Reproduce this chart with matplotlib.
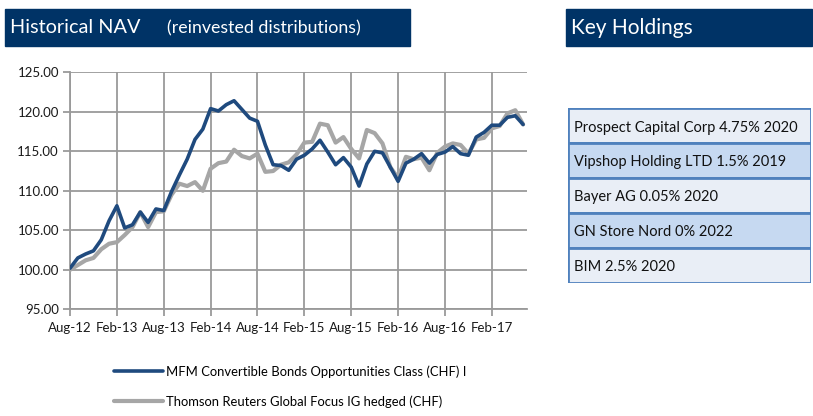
import matplotlib.pyplot as plt
from matplotlib.patches import Rectangle

plt.rcParams['font.family'] = ['Lato', 'DejaVu Sans']

# monthly NAV, Aug-12 .. Jun-17
fund_nav = [100.2, 101.5, 102.0, 102.4, 103.8, 106.2, 108.1, 105.3, 105.7, 107.3,
            106.0, 107.7, 107.5, 109.9, 112.0, 114.0, 116.5, 117.8, 120.4, 120.1,
            120.9, 121.4, 120.3, 119.2, 118.8, 115.8, 113.3, 113.2, 112.6, 114.0,
            114.5, 115.3, 116.4, 114.9, 113.3, 114.2, 113.0, 110.6, 113.4, 115.0,
            114.8, 113.0, 111.2, 113.5, 114.0, 114.7, 113.5, 114.6, 114.9, 115.6,
            114.7, 114.5, 116.8, 117.4, 118.3, 118.3, 119.3, 119.5, 118.4]
index_nav = [100.0, 100.6, 101.2, 101.5, 102.6, 103.3, 103.5, 104.4, 105.4, 107.3,
             105.4, 107.3, 107.4, 109.5, 110.9, 110.6, 111.1, 110.0, 112.8, 113.5,
             113.7, 115.2, 114.4, 114.1, 114.7, 112.4, 112.5, 113.3, 113.6, 114.6,
             116.1, 116.2, 118.5, 118.3, 116.1, 116.8, 115.3, 114.1, 117.7, 117.3,
             116.0, 113.0, 111.6, 114.3, 114.0, 114.2, 112.6, 114.8, 115.6, 116.0,
             115.8, 114.7, 116.5, 116.7, 117.9, 118.2, 119.8, 120.2, 118.4]
months = list(range(len(fund_nav)))

tick_labels = ['Aug-12', 'Feb-13', 'Aug-13', 'Feb-14', 'Aug-14', 'Feb-15',
               'Aug-15', 'Feb-16', 'Aug-16', 'Feb-17']
tick_pos = [6 * i for i in range(len(tick_labels))]
y_ticks = [95, 100, 105, 110, 115, 120, 125]

fund_label = 'MFM Convertible Bonds Opportunities Class (CHF) I'
index_label = 'Thomson Reuters Global Focus IG hedged (CHF)'

holdings = ['Prospect Capital Corp 4.75% 2020', 'Vipshop Holding LTD 1.5% 2019',
            'Bayer AG 0.05% 2020', 'GN Store Nord 0% 2022', 'BIM 2.5% 2020']

navy = '#003366'
blue = '#1f4a7e'
grey = '#a6a6a6'
grid = '#9a9a9a'

W, H = 813, 416
fig = plt.figure(figsize=(W / 100, H / 100), dpi=100)


def fx(px):
    return px / W


def fy(py):
    return 1 - py / H


# header bars
fig.patches.append(Rectangle((fx(5), fy(45.7)), fx(405), 36.7 / H,
                             transform=fig.transFigure, color=navy, zorder=0))
fig.patches.append(Rectangle((fx(566), fy(45.7)), fx(246), 36.7 / H,
                             transform=fig.transFigure, color=navy, zorder=0))
fig.text(fx(10), fy(27.5), 'Historical NAV', color='white', fontsize=14.3,
         va='center', ha='left')
fig.text(fx(167), fy(28), '(reinvested distributions)', color='white',
         fontsize=12.8, va='center', ha='left')
fig.text(fx(571), fy(27.5), 'Key Holdings', color='white', fontsize=15,
         va='center', ha='left')

# chart
ax = fig.add_axes([fx(70), fy(309.3), fx(457), 237 / H])
ax.plot(months, index_nav, color=grey, lw=3.0, solid_joinstyle='round',
        solid_capstyle='round', label=index_label, zorder=3)
ax.plot(months, fund_nav, color=blue, lw=2.6, solid_joinstyle='round',
        solid_capstyle='round', label=fund_label, zorder=4)
ax.set_xlim(0, 58.5)
ax.set_ylim(95, 125)
ax.set_xticks(tick_pos)
ax.set_xticklabels(tick_labels, fontsize=9.5)
ax.set_yticks(y_ticks)
ax.set_yticklabels([f'{v:.2f}' for v in y_ticks], fontsize=9.5)
ax.grid(True, color=grid, lw=1.3)
for s in ['top', 'right']:
    ax.spines[s].set_visible(False)
for s in ['left', 'bottom']:
    ax.spines[s].set_color(grid)
    ax.spines[s].set_linewidth(1.3)
ax.tick_params(axis='both', color=grid, width=1.3, length=5, labelcolor='#1a1a1a')
ax.tick_params(axis='x', pad=4)
ax.tick_params(axis='y', pad=3)

handles, labels = ax.get_legend_handles_labels()
fig.legend(handles[::-1], labels[::-1], loc='upper left', frameon=False,
           bbox_to_anchor=(fx(109), fy(360)), fontsize=9.4, handlelength=3.7,
           handletextpad=0.25, labelspacing=1.35, borderaxespad=0)

# key holdings table
tab = fig.add_axes([fx(568.3), fy(283), fx(242.4), 174.7 / H])
tab.set_xlim(0, 1)
tab.set_ylim(len(holdings), 0)
tab.axis('off')
for i, name in enumerate(holdings):
    face = '#c6d9f1' if i % 2 else '#e9eef6'
    tab.add_patch(Rectangle((0, i), 1, 1, facecolor=face, edgecolor='#4f81bd',
                            lw=2))
    tab.text(0.022, i + 0.55, name, fontsize=10.5, va='center', ha='left',
             color='#111111')

fig.savefig('out.png', dpi=100)
